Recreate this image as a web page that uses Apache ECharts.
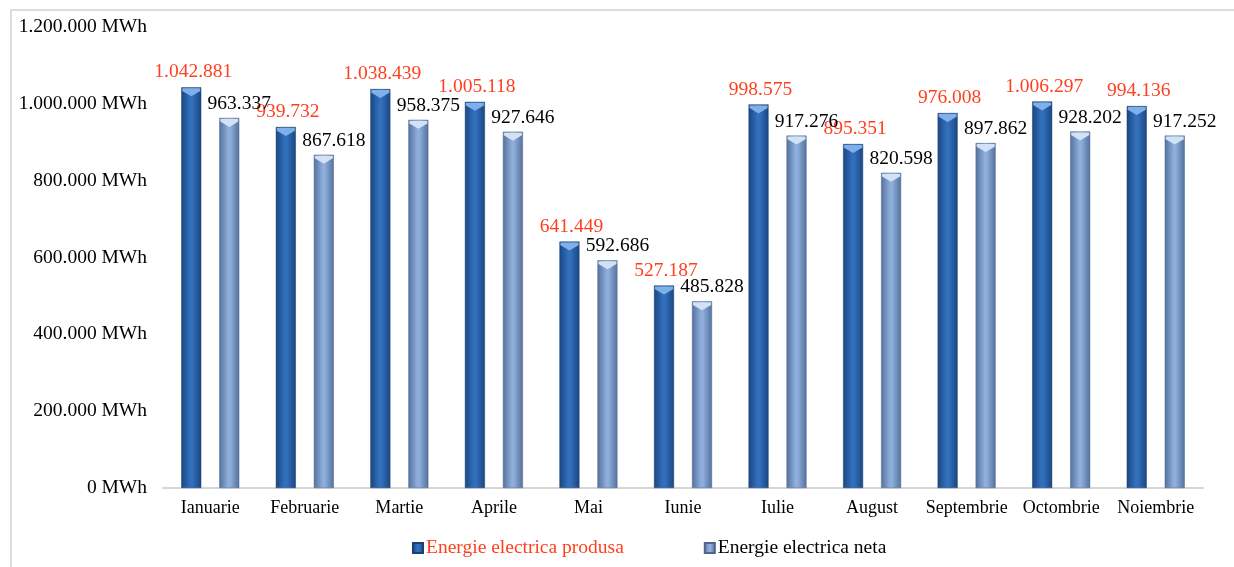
<!DOCTYPE html>
<html>
<head>
<meta charset="utf-8">
<script src="https://cdn.jsdelivr.net/npm/echarts@6/dist/echarts.min.js"></script>
<style>
    html, body { margin: 0; padding: 0; background: #fff; }
    #chart { width: 1234px; height: 567px; }
    #frame {
        position: absolute; left: 10px; top: 9px; right: 0; bottom: 0;
        border-left: 2px solid #dcdcdc; border-top: 2px solid #dcdcdc;
        pointer-events: none;
    }
</style>
</head>
<body>
<div id="chart"></div>
<div id="frame"></div>
<script>
const months = ['Ianuarie', 'Februarie', 'Martie', 'Aprile', 'Mai', 'Iunie', 'Iulie', 'August', 'Septembrie', 'Octombrie', 'Noiembrie']
const produsa = [1042881, 939732, 1038439, 1005118, 641449, 527187, 998575, 895351, 976008, 1006297, 994136]
const neta = [963337, 867618, 958375, 927646, 592686, 485828, 917276, 820598, 897862, 928202, 917252]
const seriesNames = ['Energie electrica produsa', 'Energie electrica neta']

const FONT = '"Liberation Serif", "Times New Roman", serif'
const RED = '#ff4020'

// 1234567 -> 1.234.567
function fmt(v) {
    return String(Math.round(v)).replace(/\B(?=(\d{3})+(?!\d))/g, '.')
}

function hGrad(edge, mid) {
    return new echarts.graphic.LinearGradient(0, 0, 1, 0, [
        { offset: 0, color: edge },
        { offset: 0.45, color: mid },
        { offset: 0.55, color: mid },
        { offset: 1, color: edge }
    ])
}

const darkColor = hGrad('#1a4680', '#3270bd')
const lightColor = hGrad('#55709c', '#8eaedb')
const capPath = 'path://M0,0 L10,0 L10,2 L5,6 L0,2 Z'

const chart = echarts.init(document.getElementById('chart'))

chart.setOption({
    animation: false,
    textStyle: { fontFamily: FONT },
    grid: { left: 163, right: 31, top: 27, bottom: 79 },
    legend: {
        left: 407,
        top: 533,
        icon: 'rect',
        itemWidth: 10,
        itemHeight: 10,
        itemGap: 80,
        textStyle: { fontFamily: FONT, fontSize: 19.5, padding: [0, 0, 0, -2] },
        data: [
            { name: seriesNames[0], textStyle: { color: RED } },
            { name: seriesNames[1], textStyle: { color: '#000' } }
        ]
    },
    xAxis: {
        type: 'category',
        data: months,
        axisLine: { lineStyle: { color: '#d6d6d6', width: 2 } },
        axisTick: { length: 5, lineStyle: { color: '#d6d6d6', width: 2 } },
        axisLabel: { color: '#000', fontSize: 18, fontFamily: FONT, margin: 11, interval: 0 }
    },
    yAxis: {
        type: 'value',
        min: 0,
        max: 1200000,
        interval: 200000,
        splitLine: { show: false },
        axisLine: { show: false },
        axisTick: { show: false },
        axisLabel: {
            color: '#000', fontSize: 19.5, fontFamily: FONT, margin: 16,
            formatter: v => fmt(v) + ' MWh'
        }
    },
    series: [
        {
            name: seriesNames[0],
            type: 'bar',
            data: produsa,
            barWidth: 20,
            barGap: '90%',
            itemStyle: { color: darkColor, borderColor: '#1b3f70', borderWidth: 0.5 },
            label: {
                show: true, position: 'top', distance: 5, offset: [2, 0],
                color: RED, fontSize: 19.5, fontFamily: FONT,
                formatter: p => fmt(p.value)
            }
        },
        {
            name: seriesNames[1],
            type: 'bar',
            data: neta,
            barWidth: 20,
            barGap: '90%',
            itemStyle: { color: lightColor, borderColor: '#4d6690', borderWidth: 0.5 },
            label: {
                show: true, position: 'top', distance: 4, offset: [10, 0],
                color: '#000', fontSize: 19.5, fontFamily: FONT,
                formatter: p => fmt(p.value)
            }
        },
        {
            name: 'cap1',
            type: 'pictorialBar',
            data: produsa,
            barWidth: 20,
            barGap: '90%',
            symbol: capPath,
            symbolSize: [18, 8],
            symbolPosition: 'end',
            symbolOffset: [0, 1],
            itemStyle: { color: '#7fb0ea' },
            silent: true,
            z: 5
        },
        {
            name: 'cap2',
            type: 'pictorialBar',
            data: neta,
            barWidth: 20,
            barGap: '90%',
            symbol: capPath,
            symbolSize: [18, 8],
            symbolPosition: 'end',
            symbolOffset: [0, 1],
            itemStyle: { color: '#d2e2f6' },
            silent: true,
            z: 5
        }
    ]
})
</script>
</body>
</html>
